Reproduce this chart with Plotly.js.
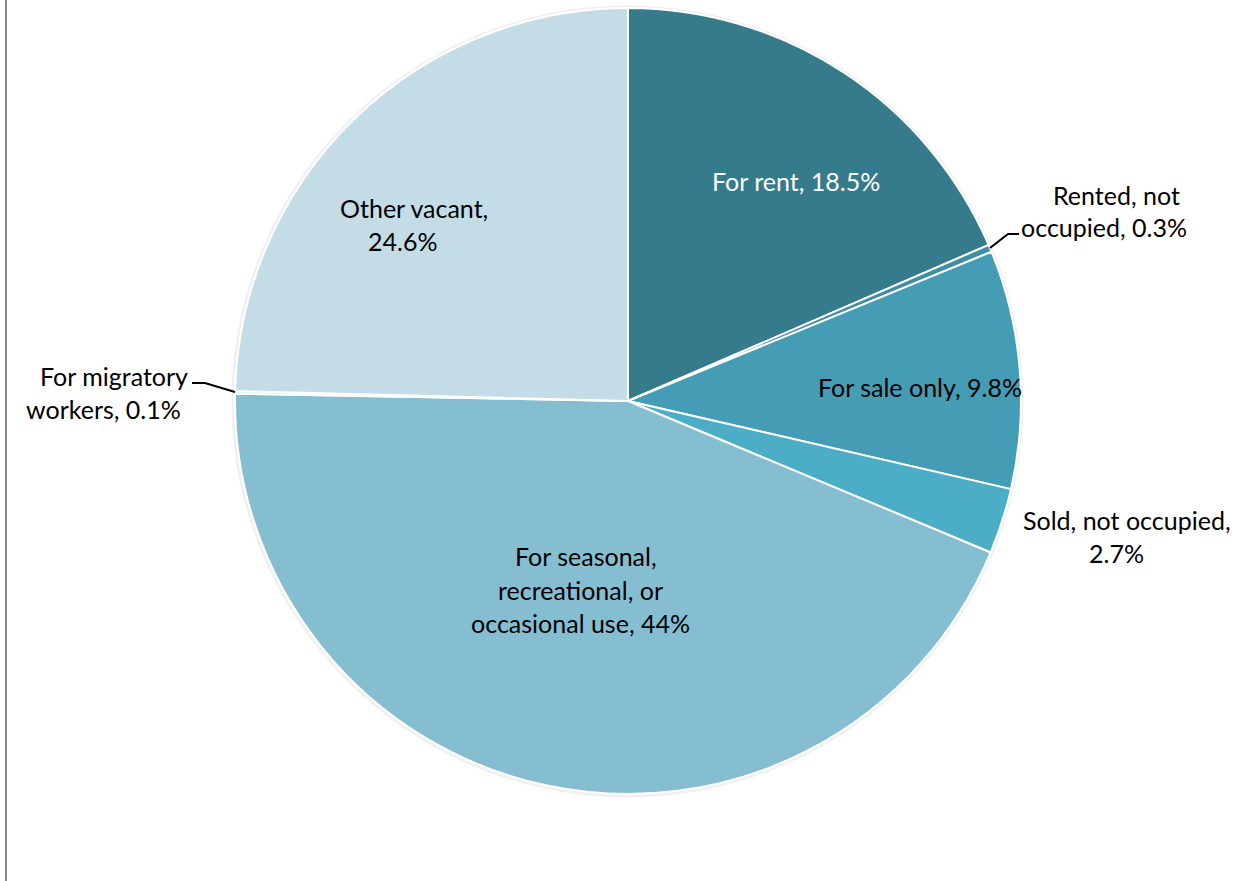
<!DOCTYPE html>
<html>
<head>
<meta charset="utf-8">
<script src="https://cdn.plot.ly/plotly-3.0.1.min.js"></script>
<style>html,body{margin:0;padding:0;background:#fff;}#chart{width:1243px;height:881px;}</style>
</head>
<body>
<div id="chart"></div>
<script>
// Data
const categories = ["For rent", "Rented, not occupied", "For sale only", "Sold, not occupied",
  "For seasonal, recreational, or occasional use", "For migratory workers", "Other vacant"];
const shares = [18.5, 0.3, 9.8, 2.7, 44, 0.1, 24.6];
const pctLabels = ["18.5%", "0.3%", "9.8%", "2.7%", "44%", "0.1%", "24.6%"];
// Label text lines as shown on the chart
const labelLines = [
  ["For rent, 18.5%"],
  ["Rented, not", "occupied, 0.3%"],
  ["For sale only, 9.8%"],
  ["Sold, not occupied,", "2.7%"],
  ["For seasonal,", "recreational, or", "occasional use, 44%"],
  ["For migratory", "workers, 0.1%"],
  ["Other vacant,", "24.6%"]
];
const sliceColors = ["#357B8C", "#3F8EA3", "#459DB5", "#4BADC6", "#86BED1", "#A6CFDD", "#C4DCE5"];

// Layout helpers (pixel -> paper)
const W = 1243, H = 881;
const px = x => x / W;
const py = y => 1 - y / H;
const cx = 628, cy = 401, R = 393;

// label placement (pixel centres of each line)
const labelPos = [
  {lines: [[796, 181]], color: "#ffffff"},
  {lines: [[1116, 195], [1104, 227]], color: "#000000"},
  {lines: [[920, 387]], color: "#000000"},
  {lines: [[1127, 520], [1116, 553]], color: "#000000"},
  {lines: [[586, 556], [580, 590], [580, 623]], color: "#000000"},
  {lines: [[114, 376], [103, 409]], color: "#000000"},
  {lines: [[414, 208], [402, 241]], color: "#000000"}
];
const FONT = "Lato, 'Noto Sans', sans-serif";
const FS = 25;

const annotations = [];
labelLines.forEach((lines, i) => {
  lines.forEach((t, j) => {
    const p = labelPos[i].lines[j];
    annotations.push({
      xref: "paper", yref: "paper", x: px(p[0]), y: py(p[1]),
      xanchor: "center", yanchor: "middle", showarrow: false,
      text: t, font: {family: FONT, size: FS, color: labelPos[i].color}
    });
  });
});

function pathFrom(pts) {
  return pts.map((p, k) => (k ? "L" : "M") + px(p[0]) + "," + py(p[1])).join(" ");
}

const shapes = [
  // soft shadow ring behind pie
  {type: "circle", xref: "paper", yref: "paper", layer: "below",
   x0: px(cx - R - 2), x1: px(cx + R + 1), y0: py(cy + R + 2), y1: py(cy - R - 1),
   line: {color: "rgba(0,0,0,0.06)", width: 3}, fillcolor: "rgba(0,0,0,0)"},
  // left border line
  {type: "line", xref: "paper", yref: "paper", x0: px(6), x1: px(6), y0: 0, y1: 1,
   line: {color: "#8C8C8C", width: 2}},
  // leader lines
  {type: "path", xref: "paper", yref: "paper", path: pathFrom([[990, 248], [1008, 234], [1019, 234]]),
   line: {color: "#000000", width: 2}},
  {type: "path", xref: "paper", yref: "paper", path: pathFrom([[192, 383], [205, 383], [235, 392]]),
   line: {color: "#000000", width: 2}}
];

const trace = {
  type: "pie",
  labels: categories,
  values: shares,
  text: pctLabels,
  sort: false,
  direction: "clockwise",
  rotation: 0,
  textinfo: "none",
  hoverinfo: "label+text",
  marker: {colors: sliceColors, line: {color: "#ffffff", width: 2}},
  domain: {x: [px(cx - R), px(cx + R)], y: [py(cy + R), py(cy - R)]},
  showlegend: false
};

const layout = {
  width: W, height: H,
  margin: {l: 0, r: 0, t: 0, b: 0},
  paper_bgcolor: "#ffffff",
  showlegend: false,
  annotations: annotations,
  shapes: shapes
};

Plotly.newPlot("chart", [trace], layout, {displayModeBar: false, staticPlot: true});
</script>
</body>
</html>
